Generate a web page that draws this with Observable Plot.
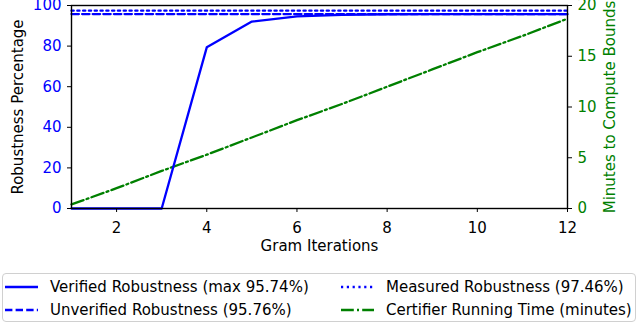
<!DOCTYPE html>
<html><head><meta charset="utf-8">
<script src="https://cdn.jsdelivr.net/npm/d3@7"></script>
<script src="https://cdn.jsdelivr.net/npm/@observablehq/plot@0.6"></script>
<style>
body{margin:0;background:#fff;font-family:"DejaVu Sans",sans-serif;}
#chart{position:relative;width:640px;height:324px;overflow:hidden;}
#legend{position:absolute;left:2px;top:273px;width:634px;height:49px;border:1px solid #d0d0d0;border-radius:4px;box-sizing:border-box;font-size:15px;color:#000;}
.item{position:absolute;display:flex;align-items:center;white-space:nowrap;height:20px;}
.item svg{margin-right:12px;}
</style></head>
<body><div id="chart"><div id="legend"></div></div>
<script>
const iterations = [1,2,3,4,5,6,7,8,9,10,11,12];
const verified = [0,0,0,79.4,92.1,94.6,95.4,95.7,95.74,95.74,95.74,95.74];
const unverified = 95.76;
const measured = 97.46;
const minutes = [0.4,2.0,3.7,5.3,7.0,8.7,10.3,12.0,13.7,15.4,17.0,18.7];
const leftTicks = [0,20,40,60,80,100];
const rightTicks = [0,5,10,15,20];
const xTicks = [2,4,6,8,10,12];
const labels = {
  verified:"Verified Robustness (max 95.74%)",
  unverified:"Unverified Robustness (95.76%)",
  measured:"Measured Robustness (97.46%)",
  time:"Certifier Running Time (minutes)"
};
const BLUE="#0000ff", GREEN="#008000";
const rightMax = 20, leftMax = 100;
const toLeft = m => m*leftMax/rightMax;
const LW = 2.3;
const DASH = "7.4,3.2", DOT = "2.2,3.6", DASHDOT = "12.8,3.2,2,3.2";

const verData = iterations.map((x,i)=>({x,y:verified[i]}));
const timeData = iterations.map((x,i)=>({x,y:toLeft(minutes[i])}));
const hData = v => [{x:1,y:v},{x:12,y:v}];

const plot = Plot.plot({
  width:640, height:260,
  marginLeft:71, marginRight:73, marginTop:5, marginBottom:52,
  style:{fontFamily:"DejaVu Sans, sans-serif", fontSize:"15px", overflow:"visible", background:"transparent"},
  x:{domain:[1,12]},
  y:{domain:[0,100]},
  marks:[
    Plot.line(timeData,{x:"x",y:"y",stroke:GREEN,strokeWidth:LW,strokeDasharray:DASHDOT}),
    Plot.line(verData,{x:"x",y:"y",stroke:BLUE,strokeWidth:LW}),
    Plot.line(hData(unverified),{x:"x",y:"y",stroke:BLUE,strokeWidth:LW,strokeDasharray:DASH}),
    Plot.line(hData(measured),{x:"x",y:"y",stroke:BLUE,strokeWidth:LW,strokeDasharray:DOT}),
    Plot.frame({stroke:"#000",strokeWidth:1.4}),
    Plot.axisX({ticks:xTicks,tickSize:4,tickPadding:10,stroke:"#000",color:"#000",fontSize:15,label:"Gram Iterations",labelAnchor:"center",labelOffset:42,labelArrow:false}),
    Plot.axisY({anchor:"left",ticks:leftTicks,tickSize:4,tickPadding:6,color:BLUE,stroke:"#000",fontSize:15,label:null}),
    Plot.axisY({anchor:"right",ticks:rightTicks.map(toLeft),tickFormat:d=>d/leftMax*rightMax,tickSize:4,tickPadding:6,color:GREEN,stroke:"#000",fontSize:15,label:null}),
    Plot.text(["Robustness Percentage"],{frameAnchor:"left",dx:-53,rotate:-90,textAnchor:"middle",fill:"#000",fontSize:15,text:d=>d}),
    Plot.text(["Minutes to Compute Bounds"],{frameAnchor:"right",dx:43,rotate:-90,textAnchor:"middle",fill:GREEN,fontSize:15,text:d=>d})
  ]
});
plot.style.position="absolute";plot.style.left="0";plot.style.top="0";
document.getElementById("chart").prepend(plot);

const legend = document.getElementById("legend");
const items = [
  {t:labels.verified, c:BLUE, d:null, left:2, top:3},
  {t:labels.unverified, c:BLUE, d:DASH, left:2, top:26},
  {t:labels.measured, c:BLUE, d:DOT, left:338, top:3},
  {t:labels.time, c:GREEN, d:DASHDOT, left:338, top:26}
];
for (const it of items){
  const div=document.createElement("div");div.className="item";
  div.style.left=it.left+"px";div.style.top=it.top+"px";
  const ns="http://www.w3.org/2000/svg";
  const s=document.createElementNS(ns,"svg");s.setAttribute("width","33");s.setAttribute("height","16");
  const l=document.createElementNS(ns,"line");
  l.setAttribute("x1","0");l.setAttribute("x2","33");l.setAttribute("y1","8");l.setAttribute("y2","8");
  l.setAttribute("stroke",it.c);l.setAttribute("stroke-width",String(LW));
  if(it.d) l.setAttribute("stroke-dasharray",it.d);
  s.appendChild(l);div.appendChild(s);
  const sp=document.createElement("span");sp.textContent=it.t;div.appendChild(sp);
  legend.appendChild(div);
}
</script></body></html>
